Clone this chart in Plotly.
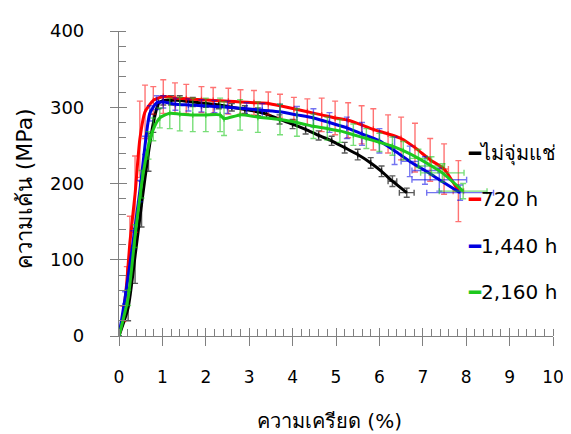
import plotly.graph_objects as go

# ---- data (strain %, stress MPa, error) ----
black_x = [0, 0.21, 0.37, 0.52, 0.68, 0.79, 0.91, 1.02, 1.2, 1.4, 1.7, 2.0, 2.3, 2.6, 2.9, 3.2, 3.4, 3.7, 4.0, 4.3, 4.6, 4.9, 5.2, 5.5, 5.8, 6.05, 6.3, 6.63]
black_y = [0, 37, 105, 173, 241, 279, 305, 309, 309, 309, 307, 305, 303, 300, 297, 294, 291, 284, 278, 271, 263, 256, 247, 238, 227, 216, 203, 188]
black_err = [0, 17, 36, 30, 25, 12, 7, 6, 6, 6, 6, 5, 5, 5, 5, 5, 5, 6, 6, 6, 6, 6, 7, 7, 7, 7, 7, 6]
black_errx = [0]*26 + [0.1, 0.17]

red_x = [0, 0.1, 0.18, 0.25, 0.37, 0.48, 0.6, 0.79, 1.02, 1.29, 1.55, 1.9, 2.17, 2.52, 2.8, 3.11, 3.44, 3.71, 4.03, 4.34, 4.67, 4.98, 5.28, 5.59, 5.86, 6.2, 6.5, 6.82, 7.17, 7.49, 7.82]
red_y = [0, 29, 71, 122, 186, 258, 294, 309, 314, 312, 311, 310, 309, 308, 307, 306, 305, 302, 298, 294, 290, 286, 283, 277, 271, 265, 259, 247, 231, 219, 190]
red_err = [0, 10, 20, 35, 50, 50, 35, 18, 22, 20, 19, 17, 17, 17, 16, 16, 15, 15, 15, 17, 22, 22, 23, 25, 27, 25, 28, 32, 28, 33, 40]
red_errx = [0]*29 + [0.1, 0.12]

blue_x = [0, 0.14, 0.33, 0.48, 0.6, 0.71, 0.87, 1.02, 1.3, 1.6, 1.9, 2.2, 2.5, 2.94, 3.3, 3.71, 4.1, 4.48, 4.85, 5.25, 5.6, 6.0, 6.35, 6.7, 7.05, 7.38, 7.86]
blue_y = [0, 50, 126, 190, 250, 292, 306, 307, 304, 303, 302, 301, 300, 298, 296, 294, 290, 286, 280, 273, 265, 256, 243, 229, 217, 205, 188]
blue_err = [0, 8, 12, 14, 12, 10, 9, 8, 8, 8, 8, 8, 8, 8, 9, 10, 11, 12, 13, 14, 15, 16, 18, 20, 18, 15, 10]
blue_errx = [0]*23 + [0.2, 0.3, 0.63, 0.77]

green_x = [0, 0.21, 0.37, 0.52, 0.68, 0.79, 0.94, 1.17, 1.4, 1.7, 2.0, 2.33, 2.42, 2.79, 3.2, 3.71, 4.1, 4.48, 4.8, 5.09, 5.4, 5.7, 6.0, 6.3, 6.55, 6.9, 7.2, 7.45, 7.93]
green_y = [0, 50, 131, 199, 250, 271, 286, 292, 291, 290, 290, 290, 285, 290, 287, 284, 280, 275, 272, 269, 264, 259, 254, 249, 243, 233, 223, 214, 190]
green_err = [0, 10, 15, 18, 18, 15, 13, 20, 22, 22, 22, 22, 22, 20, 20, 20, 18, 16, 15, 15, 14, 13, 12, 12, 12, 12, 12, 12, 10]
green_errx = [0]*25 + [0.2, 0.3, 0.5, 0.55]

series = [
    ("ไม่จุ่มแช่", black_x, black_y, black_err, black_errx, "#000000", "rgba(0,0,0,0.65)"),
    ("720 h", red_x, red_y, red_err, red_errx, "#ff0000", "rgba(255,0,0,0.55)"),
    ("1,440 h", blue_x, blue_y, blue_err, blue_errx, "#0000e0", "rgba(0,0,230,0.55)"),
    ("2,160 h", green_x, green_y, green_err, green_errx, "#1ec81e", "rgba(30,200,30,0.6)"),
]

x_ticks = [0, 1, 2, 3, 4, 5, 6, 7, 8, 9, 10]
y_ticks = [0, 100, 200, 300, 400]

FONT = "DejaVu Sans, Noto Sans, sans-serif"
AX = "#808080"

fig = go.Figure()
for name, xs, ys, err, errx, col, ecol in series:
    fig.add_trace(go.Scatter(
        x=xs, y=ys, name=name, mode="lines",
        line=dict(color=col, width=3, shape="spline", smoothing=0.6),
        error_y=dict(type="data", array=err, visible=True, color=ecol, thickness=1.4, width=3),
        error_x=dict(type="data", array=errx, visible=True, color=ecol, thickness=1.4, width=3),
        showlegend=False,
    ))

# dummy trace on overlay axes (for inward major tick marks)
fig.add_trace(go.Scatter(x=[None], y=[None], xaxis="x2", yaxis="y2", showlegend=False, hoverinfo="skip"))

fig.update_layout(
    width=571, height=434,
    margin=dict(l=111, r=26, t=14, b=106, pad=0),
    paper_bgcolor="white", plot_bgcolor="white",
    font=dict(family=FONT, color="#000000"),
    xaxis=dict(range=[0, 10], tickvals=x_ticks, ticks="outside", ticklen=9, tickwidth=1.2,
               tickcolor=AX, showline=True, linecolor=AX, linewidth=1.2, showgrid=False,
               zeroline=False, tickfont=dict(size=17, family=FONT), ticklabelstandoff=16,
               minor=dict(dtick=0.2, ticks="inside", ticklen=7, tickcolor=AX, tickwidth=1, showgrid=False)),
    yaxis=dict(range=[0, 400], tickvals=y_ticks, ticks="outside", ticklen=8, tickwidth=1.2,
               tickcolor=AX, showline=True, linecolor=AX, linewidth=1.2, showgrid=False,
               zeroline=False, tickfont=dict(size=18, family=FONT), ticklabelstandoff=22,
               minor=dict(dtick=20, ticks="inside", ticklen=7, tickcolor=AX, tickwidth=1, showgrid=False)),
    xaxis2=dict(range=[0, 10], tickvals=x_ticks, overlaying="x", anchor="y", side="bottom",
                ticks="inside", ticklen=8, tickwidth=1.2, tickcolor=AX, showticklabels=False,
                showline=False, showgrid=False, zeroline=False),
    yaxis2=dict(range=[0, 400], tickvals=y_ticks, overlaying="y", anchor="x", side="left",
                ticks="inside", ticklen=8, tickwidth=1.2, tickcolor=AX, showticklabels=False,
                showline=False, showgrid=False, zeroline=False),
)

# axis titles
fig.add_annotation(text="ความเครียด (%)", xref="paper", yref="paper", x=0.486, y=-0.28,
                   xanchor="center", yanchor="middle", showarrow=False, font=dict(size=20, family=FONT))
fig.add_annotation(text="ความเค้น (MPa)", xref="paper", yref="paper", x=-0.217, y=0.484,
                   xanchor="center", yanchor="middle", textangle=-90, showarrow=False,
                   font=dict(size=22, family=FONT))

# legend as text labels
leg_y = [0.599, 0.449, 0.296, 0.143]
for (name, xs, ys, err, errx, col, ecol), yy in zip(series, leg_y):
    fig.add_annotation(text=f"<span style='color:{col}'>━</span>{name}", xref="paper", yref="paper",
                       x=0.800, y=yy, xanchor="left", yanchor="middle", showarrow=False,
                       font=dict(size=20, family=FONT))

fig.write_html("out.html")
